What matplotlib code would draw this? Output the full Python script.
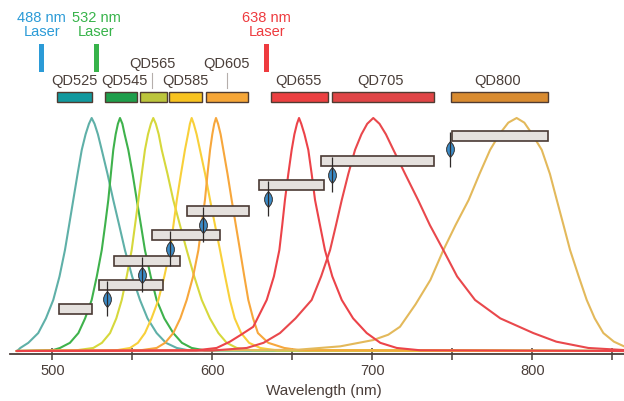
import matplotlib
matplotlib.use("Agg")
import matplotlib.pyplot as plt
from matplotlib.patches import Rectangle
from matplotlib.path import Path
from matplotlib.transforms import blended_transform_factory

plt.rcParams['font.family'] = ['Liberation Sans', 'DejaVu Sans']

# ---- data (wavelength in nm, normalised emission) ----
names = ["QD525", "QD545", "QD565", "QD585", "QD605", "QD655", "QD705", "QD800"]

# heights at which the flanks were read (left flank, peak, right flank)
levels = [0.0, 0.003, 0.013, 0.035, 0.077, 0.14, 0.219, 0.32, 0.433, 0.54, 0.648, 0.76, 0.863,
          0.93, 0.975, 1.0, 0.975, 0.93, 0.863, 0.76, 0.648, 0.54, 0.433, 0.32, 0.219, 0.14,
          0.077, 0.035, 0.013, 0.003, 0.0]

wl_525 = [477.7, 478.5, 480.0, 485.0, 491.2, 496.0, 500.6, 504.5, 507.9, 510.5, 513.1, 515.8, 518.4,
          520.8, 522.9, 524.6, 526.4, 528.5, 530.9, 534.5, 538.1, 541.8, 545.4, 549.9, 554.8, 559.5,
          565.2, 571.0, 577.8, 585.0, 857.3]
wl_545 = [477.7, 500.0, 504.8, 511.0, 516.3, 520.5, 524.6, 527.8, 530.9, 533.0, 535.0, 536.6, 538.1,
          539.6, 541.0, 542.3, 543.8, 545.2, 547.5, 550.2, 552.8, 555.4, 557.9, 561.5, 565.2, 570.0,
          575.6, 581.0, 587.1, 595.0, 857.3]
wl_565 = [477.7, 515.0, 525.6, 531.0, 536.1, 540.0, 543.4, 546.5, 549.6, 551.7, 553.8, 555.9, 557.9,
          559.8, 561.6, 563.1, 564.7, 566.5, 568.4, 572.0, 575.6, 579.8, 584.0, 588.7, 593.4, 598.5,
          603.8, 609.0, 615.3, 625.0, 857.3]
wl_585 = [477.7, 540.0, 548.6, 553.5, 557.9, 562.0, 566.3, 570.0, 573.6, 575.7, 577.8, 580.4, 582.9,
          584.8, 586.0, 587.1, 588.4, 590.2, 592.3, 595.5, 598.6, 601.7, 604.8, 608.0, 611.0, 614.0,
          618.0, 623.0, 630.0, 640.0, 857.3]
wl_605 = [477.7, 555.0, 565.2, 570.5, 575.6, 580.0, 584.0, 588.0, 591.3, 593.3, 595.4, 597.0, 598.6,
          600.0, 601.2, 602.3, 603.6, 605.2, 606.9, 609.5, 612.1, 614.7, 617.3, 620.0, 622.5, 625.5,
          628.5, 635.0, 645.0, 655.0, 857.3]

wl_655 = [477.7, 590.0, 602.7, 611.0, 618.0, 625.6, 634.0, 638.5, 641.9, 643.7, 645.4, 647.5, 649.6,
          651.3, 652.9, 654.2, 655.6, 657.6, 660.0, 662.1, 664.2, 667.3, 670.4, 675.0, 680.9, 688.0,
          696.5, 705.0, 715.3, 730.0, 857.3]
em_655 = [0.0, 0.003, 0.013, 0.04, 0.07, 0.104, 0.219, 0.32, 0.433, 0.54, 0.648, 0.76, 0.863,
          0.93, 0.975, 1.0, 0.975, 0.93, 0.863, 0.76, 0.648, 0.54, 0.433, 0.32, 0.219, 0.14,
          0.077, 0.035, 0.013, 0.003, 0.0]

wl_705 = [477.7, 600.0, 621.5, 632.0, 642.3, 652.0, 662.1, 668.0, 673.6, 677.3, 680.9, 685.0, 689.2,
          693.2, 696.8, 700.6, 704.5, 708.5, 713.2, 720.5, 728.6, 736.0, 744.4, 753.0, 764.2, 780.0,
          800.6, 815.0, 835.0, 857.3]
em_705 = [0.0, 0.002, 0.013, 0.035, 0.077, 0.14, 0.219, 0.32, 0.433, 0.54, 0.648, 0.76, 0.863,
          0.93, 0.975, 1.0, 0.975, 0.93, 0.863, 0.76, 0.648, 0.54, 0.433, 0.32, 0.219, 0.14,
          0.077, 0.04, 0.013, 0.004]

wl_800 = [477.7, 652.7, 680.0, 700.6, 710.0, 717.3, 727.0, 736.3, 744.4, 752.0, 760.2, 767.0, 773.6,
          779.8, 785.0, 790.2, 795.0, 799.6, 805.9, 811.0, 815.3, 819.5, 823.6, 829.0, 834.0, 839.0,
          844.4, 851.0, 857.3]
em_800 = [0.0, 0.005, 0.02, 0.047, 0.07, 0.104, 0.2, 0.305, 0.433, 0.54, 0.648, 0.76, 0.863,
          0.934, 0.98, 1.0, 0.98, 0.934, 0.863, 0.76, 0.648, 0.54, 0.433, 0.32, 0.219, 0.14,
          0.077, 0.04, 0.02]

curve_colors = ["#5fb0a8", "#3fb24c", "#d6d83c", "#f8d03a", "#f7a73c", "#ec4349", "#e9484c", "#e3b95b"]

# emission band bars at the top (start, end nm)
band_start = [502.8, 533.1, 554.8, 573.1, 595.9, 636.5, 674.6, 749.0]
band_end = [524.8, 552.8, 571.5, 593.8, 622.5, 672.5, 738.6, 809.6]
band_colors = ["#12999e", "#1f9e4b", "#bcc53c", "#f8c320", "#f6a637", "#ec4041", "#e04546", "#d98b30"]
label_x = [514.1, 544.9, 562.4, 583.3, 609.0, 654.0, 705.0, 778.4]
label_upper = [False, False, True, False, True, False, False, False]

# lasers
laser_text = ["488 nm", "532 nm", "638 nm"]
laser_x = [493.4, 527.5, 634.0]
laser_colors = ["#2b9bd7", "#37b34a", "#ee3b3f"]

# grey filter boxes (nm span) and their top edge (px from top)
box_start = [504.2, 529.2, 538.6, 562.3, 584.2, 629.2, 668.0, 749.8]
box_end = [524.8, 569.2, 579.8, 604.8, 622.9, 669.8, 738.6, 809.8]
box_top = [304, 280, 256, 230, 206, 180, 156, 130.7]
# blue markers under boxes 2..8
marker_x = [534.0, 556.3, 573.6, 594.4, 634.6, 674.6, 748.6]

# ---- figure ----
W, H = 624, 401
fig = plt.figure(figsize=(W / 100, H / 100), dpi=100)
ax = fig.add_axes([10 / W, (H - 354.3) / H, 614 / W, 354.3 / H])
ax.set_xlim(473.56, 857.3)
ax.set_ylim(-0.0142, 1.5064)

dark = "#4a3e39"
tr = blended_transform_factory(ax.transData, fig.transFigure)


def fy(px):
    return 1 - px / H


wls = [wl_525, wl_545, wl_565, wl_585, wl_605, wl_655, wl_705, wl_800]
ems = [levels, levels, levels, levels, levels, em_655, em_705, em_800]
order = [0, 1, 2, 3, 4, 7, 6, 5]
for i in order:
    ax.plot(wls[i], ems[i], color=curve_colors[i], lw=1.5, solid_joinstyle='round',
            solid_capstyle='round', zorder=2, clip_on=False)

# axis styling
for s in ["top", "left", "right"]:
    ax.spines[s].set_visible(False)
ax.spines["bottom"].set_color(dark)
ax.spines["bottom"].set_linewidth(1.3)
ax.set_yticks([])
ax.set_xticks(range(500, 851, 50))
ax.set_xticklabels(["500", "", "600", "", "700", "", "800", ""])
ax.tick_params(axis='x', direction='inout', length=8.6, width=1.1, color=dark,
               labelsize=10.5, labelcolor=dark, pad=3)
ax.set_xlabel("Wavelength (nm)", fontsize=11, color=dark, va='center')
ax.xaxis.set_label_coords((323.5 - 10) / 614, (354.3 - 391) / 354.3)

# lasers
for t, x, c in zip(laser_text, laser_x, laser_colors):
    ax.add_patch(Rectangle((x - 1.5, fy(71.5)), 3.0, 27 / H, transform=tr,
                           facecolor=c, edgecolor='none', clip_on=False))
    ax.text(x, fy(17.7), t, transform=tr, ha='center', va='center', color=c, fontsize=10.5)
    ax.text(x, fy(32.5), "Laser", transform=tr, ha='center', va='center', color=c, fontsize=10.5)

# emission band bars and labels
for i in range(len(names)):
    ax.add_patch(Rectangle((band_start[i], fy(101.5)), band_end[i] - band_start[i], 9.5 / H,
                           transform=tr, facecolor=band_colors[i], edgecolor="#4f3b31",
                           lw=1.0, clip_on=False))
    yl = 63.8 if label_upper[i] else 81
    ax.text(label_x[i], fy(yl), names[i], transform=tr, ha='center', va='center',
            color=dark, fontsize=10.5)
    if label_upper[i]:
        ax.plot([label_x[i], label_x[i]], [fy(73), fy(87.5)], transform=tr,
                color="#b5aeab", lw=0.8, clip_on=False)

# grey boxes
for x0, x1, top in zip(box_start, box_end, box_top):
    ax.add_patch(Rectangle((x0, fy(top + 10)), x1 - x0, 10 / H, transform=tr,
                           facecolor="#e5e1de", edgecolor="#4a3a34", lw=1.2,
                           zorder=4, clip_on=False))

# blue lens markers with dark stems
lens = Path([(0, 1), (0.32, 0.6), (0.48, 0.2), (0.48, -0.2), (0.32, -0.6), (0, -1),
             (-0.32, -0.6), (-0.48, -0.2), (-0.48, 0.2), (-0.32, 0.6), (0, 1)])
for x, top in zip(marker_x, box_top[1:]):
    ax.plot([x], [fy(top + 18.5)], transform=tr, marker=lens, ms=11.5,
            mfc="#3b8cc8", mec="#34302f", mew=0.7, ls='none', zorder=5, clip_on=False)
    ax.plot([x, x], [fy(top + 1), fy(top + 36)], transform=tr, color="#2f2a29",
            lw=0.9, zorder=6, clip_on=False, solid_capstyle='butt')

fig.savefig("out.png", dpi=100)
